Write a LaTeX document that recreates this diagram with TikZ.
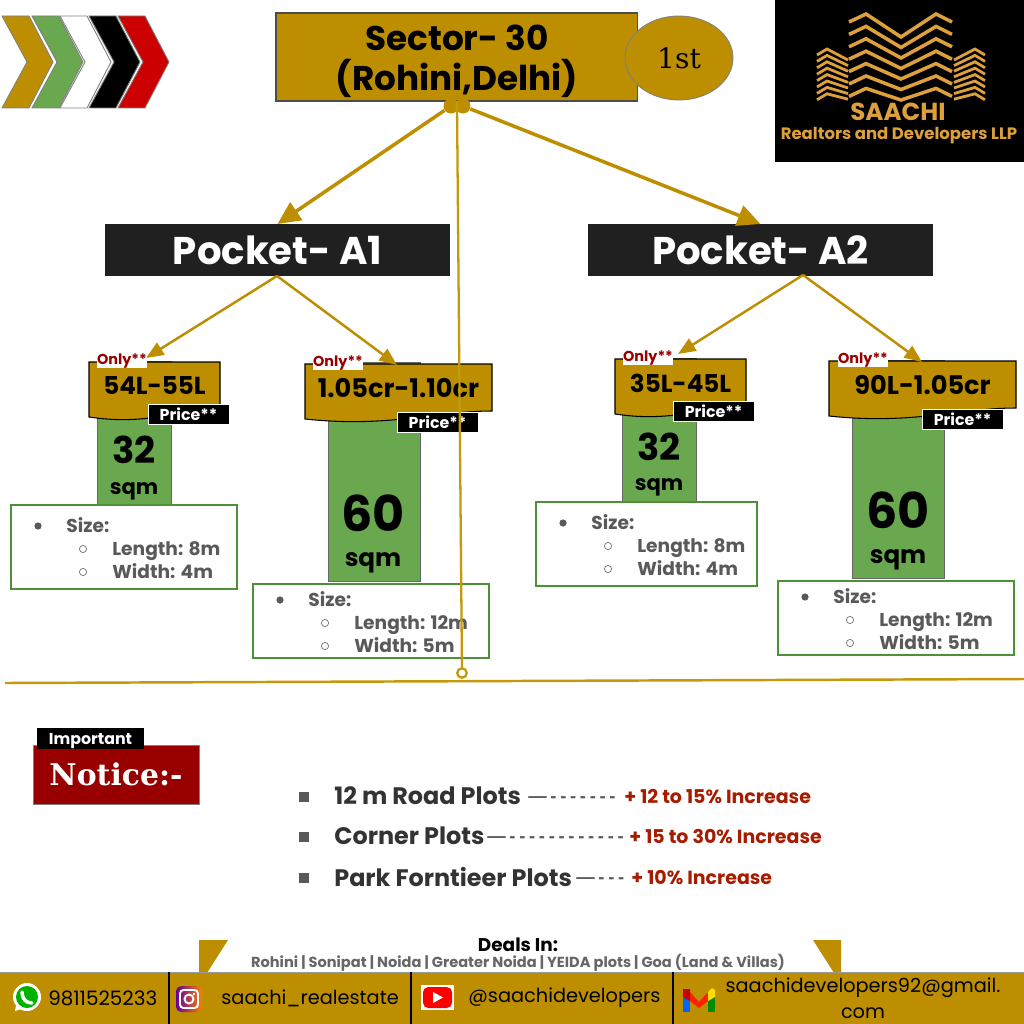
\documentclass[tikz,border=0pt]{standalone}
\usepackage{fontspec}
\setmainfont{Poppins}
\newfontfamily\slabfont{DejaVu Serif}
\newfontfamily\dashfont[LetterSpace=20]{Liberation Sans}
\usetikzlibrary{positioning, arrows.meta, shapes.geometric}
\usepackage{xcolor}
\definecolor{goldfill}{HTML}{BC8E00}
\definecolor{goldline}{HTML}{C49A0C}
\definecolor{leafgreen}{HTML}{6AA84F}
\definecolor{boxgreen}{HTML}{4E8F3A}
\definecolor{pocketblack}{HTML}{202020}
\definecolor{deepred}{HTML}{980000}
\definecolor{incred}{HTML}{A61C00}
\definecolor{logogold}{HTML}{DDA03A}
\newcommand{\fsz}[1]{\fontsize{#1}{1.2\dimexpr#1\relax}\selectfont}

\begin{document}
\begin{tikzpicture}[
                x=0.02cm, y=-0.02cm,
                tl/.style={anchor=north west, inner sep=0pt, outer sep=0pt},
                chevron/.style={draw=gray, line width=0.5pt},
                sectorbox/.style={tl, draw=black!70, fill=goldfill, line width=0.6pt, minimum width=7.24cm, minimum height=1.76cm},
                sectortext/.style={inner sep=0pt, align=center, font=\bfseries\fontsize{19.5pt}{22.8pt}\selectfont},
                pocket/.style={tl, fill=pocketblack, text=white, minimum width=6.9cm, minimum height=1.04cm, font=\bfseries\fsz{22pt}},
                bar/.style={tl, draw=gray!80!black, line width=0.3pt, fill=leafgreen},
                tagshape/.style={draw=black, line width=0.6pt, fill=goldfill},
                tagtext/.style={inner sep=0pt, font=\bfseries\fsz{14pt}},
                onlylabel/.style={tl, fill=white, text=deepred, minimum width=1cm, minimum height=0.32cm, text height=6.5pt, text depth=1.5pt, font=\bfseries\fsz{8.2pt}},
                pricelabel/.style={tl, fill=black, draw=white, line width=0.3pt, text=white, minimum width=1.62cm, minimum height=0.41cm, font=\bfseries\fsz{9pt}},
                sizebox/.style={tl, draw=boxgreen, line width=1pt, fill=white},
                sizetext/.style={anchor=west, inner sep=0pt, text height=11pt, text depth=2pt, text=black!65, font=\bfseries\fsz{10.6pt}},
                bigarrow/.style={-{Triangle[length=13pt,width=12pt]}, line width=2pt, goldfill},
                thinarrow/.style={-{Triangle[length=10pt,width=8pt]}, line width=1.4pt, goldfill},
                platetext/.style={anchor=west, inner sep=0pt, text=black!80, font=\bfseries\fsz{13.6pt}},
                dashtext/.style={anchor=base west, inner sep=0pt, text=black!65, font=\dashfont\bfseries\fsz{10.5pt}},
                incrtext/.style={anchor=west, inner sep=0pt, text=incred, font=\bfseries\fsz{10.8pt}},
                contact/.style={anchor=west, inner sep=0pt, font=\fsz{11pt}},
            ]
            \useasboundingbox (0,0) rectangle (1024,1024);
            \fill[white] (0,0) rectangle (1024,1024);

            % chevrons top left
            \foreach \cx/\cc in {2/goldfill, 32/leafgreen, 60/white, 89/black, 118/red!80!black}
                \draw[chevron, fill=\cc] (\cx,16) -- (\cx+27,16) -- (\cx+51,62) -- (\cx+27,108) -- (\cx,108) -- (\cx+25,62) -- cycle;

            % logo
            \fill[black] (775,0) rectangle (1024,162);
            \foreach \i in {0,...,6} {
                \draw[logogold, line width=2pt] (849,22+12.4*\i) -- (866,14+12.4*\i) -- (901,37+10.5*\i) -- (936,14+12.4*\i) -- (952,22+12.4*\i);
            }
            \foreach \i in {0,...,7} {
                \draw[logogold, line width=1.6pt] (817,55+6.4*\i) -- (827,49+6.4*\i) -- (848,60+5.6*\i);
                \draw[logogold, line width=1.6pt] (985,55+6.4*\i) -- (975,49+6.4*\i) -- (954,60+5.6*\i);
            }
            \node[inner sep=0pt, text=logogold, font=\bfseries\fsz{14pt}] (logoname) at (898,112) {SAACHI};
            \node[inner sep=0pt, text=logogold, font=\bfseries\fsz{9.4pt}] (logosub) at (899,136) {Realtors and Developers LLP};

            % title
            \node[sectorbox] (sector) at (276,13) {};
            \node[sectortext] (sectorname) at (457,61) {Sector- 30\\(Rohini,Delhi)};
            \node[ellipse, draw=gray, line width=0.5pt, fill=goldfill, minimum width=2.16cm, minimum height=1.68cm, inner sep=0pt, font=\slabfont\fsz{16pt}] (first) at (679,58) {1st};
            \node[circle, fill=goldfill, minimum size=0.3cm, inner sep=0pt] (dotl) at (451,106) {};
            \node[circle, fill=goldfill, minimum size=0.3cm, inner sep=0pt] (dotr) at (463,106) {};

            % pockets
            \node[pocket] (pocketa) at (105,224) {Pocket- A1};
            \node[pocket] (pocketb) at (588,224) {Pocket- A2};

            % green bars
            \foreach \nm/\bx/\by/\bw/\bh in {a/97/361/74/144, b/328/362/92/219, c/622/358/74/145, d/852/360/92/218}
                \node[bar, minimum width={\bw*0.02cm}, minimum height={\bh*0.02cm}] (bar\nm) at (\bx,\by) {};

            \foreach \nm/\nx/\ny in {a/134/450, c/659/447}
                \node[inner sep=0pt, font=\bfseries\fsz{21pt}] (num\nm) at (\nx,\ny) {32};
            \foreach \nm/\nx/\ny in {b/373/513, d/898/510}
                \node[inner sep=0pt, font=\bfseries\fsz{28pt}] (num\nm) at (\nx,\ny) {60};
            \foreach \nm/\nx/\ny/\sz in {a/134/491/12pt, c/659/487/12pt, b/373/563/14pt, d/898/560/14pt}
                \node[inner sep=0pt, font=\bfseries\fsz{\sz}] (unit\nm) at (\nx,\ny) {sqm};

            % price tags
            \foreach \nm/\tx/\ty/\tw/\val/\sz in {a/89/362/131/54L-55L/14pt, b/305/364/187/1.05cr-1.10cr/14.6pt, c/615/359/131/35L-45L/14pt, d/829/361/187/90L-1.05cr/14.6pt} {
                \draw[tagshape] (\tx,\ty) -- (\tx+\tw,\ty) -- (\tx+\tw,\ty+47) .. controls (\tx+0.7*\tw,\ty+47) and (\tx+0.45*\tw,\ty+64) .. (\tx,\ty+55) -- cycle;
                \node[tagtext, font=\bfseries\fsz{\sz}] (tag\nm) at (\tx+0.5*\tw,\ty+24) {\val};
            }
            \foreach \nm/\ox/\oy in {a/148/404, b/397/412, c/673/401, d/922/409}
                \node[pricelabel] (price\nm) at (\ox,\oy) {Price**};

            % size boxes
            \foreach \nm/\sx/\sy/\sw/\sh/\dy/\len/\wid in {a/11/505/226/84/20/8m/4m, b/253/584/236/74/15/12m/5m, c/536/502/221/84/20/8m/4m, d/778/581/236/74/15/12m/5m} {
                \node[sizebox, minimum width={\sw*0.02cm}, minimum height={\sh*0.02cm}] (size\nm) at (\sx,\sy) {};
                \fill[black!65] (\sx+27,\sy+\dy+1) circle (3.6);
                \draw[black!55, line width=0.4pt] (\sx+72,\sy+\dy+24) circle (3.6);
                \draw[black!55, line width=0.4pt] (\sx+72,\sy+\dy+47) circle (3.6);
                \node[sizetext] (sizeh\nm) at (\sx+55,\sy+\dy) {Size:};
                \node[sizetext] (sizel\nm) at (\sx+101,\sy+\dy+23) {Length: \len};
                \node[sizetext] (sizew\nm) at (\sx+101,\sy+\dy+46) {Width: \wid};
            }

            % connectors
            \coordinate (huba) at (277,276);
            \coordinate (hubb) at (803,275);
            \coordinate (tipa) at (146,358);
            \coordinate (tipb) at (397,365);
            \coordinate (tipc) at (678,354);
            \coordinate (tipd) at (922,362);
            \draw[bigarrow] (dotl) -- (pocketa.north);
            \draw[bigarrow] (dotr) -- (pocketb.north);
            \draw[thinarrow] (huba) -- (tipa);
            \draw[thinarrow] (huba) -- (tipb);
            \draw[thinarrow] (hubb) -- (tipc);
            \draw[thinarrow] (hubb) -- (tipd);
            \foreach \nm/\ox/\oy in {a/97/352, b/313/354, c/623/349, d/838/351}
                \node[onlylabel] (only\nm) at (\ox,\oy) {Only**};

            \coordinate (ruleleft) at (5,683);
            \coordinate (ruleright) at (1024,679);
            \draw[goldline, line width=1.4pt] (ruleleft) -- (ruleright);
            \node[circle, draw=goldline, line width=1.3pt, fill=white, minimum size=0.19cm, inner sep=0pt] (ring) at (462,673) {};
            \draw[goldline, line width=1.3pt] (sector.south) -- (ring);

            % notice
            \node[tl, fill=deepred, draw=gray, line width=0.4pt, text=white, minimum width=3.32cm, minimum height=1.18cm, font=\slabfont\bfseries\fsz{17pt}] (notice) at (33,745) {Notice:-};
            \node[tl, fill=black, text=white, minimum width=2.14cm, minimum height=0.42cm, text height=8pt, text depth=1pt, font=\bfseries\fsz{9pt}] (important) at (37,728) {Important};

            % plot rows
            \foreach \nm/\ry/\ptxt/\dx/\dtxt/\ix/\itxt in {
                    road/796/12 m Road Plots/528/—-------/624/+ 12 to 15\% Increase,
                    corner/836/Corner Plots/487/—------------/629/+ 15 to 30\% Increase,
                    park/877/Park Forntieer Plots/576/—---/631/+ 10\% Increase} {
                \fill[black!65] (299,\ry-4) rectangle (309,\ry+6);
                \node[platetext] (plot\nm) at (334,\ry) {\ptxt};
                \node[dashtext] (dash\nm) at (\dx,\ry+6) {\dtxt};
                \node[incrtext] (incr\nm) at (\ix,\ry+1) {\itxt};
            }

            % footer
            \node[inner sep=0pt, font=\bfseries\fsz{10.5pt}] (deals) at (518,945) {Deals In:};
            \node[inner sep=0pt, text=black!60, font=\bfseries\fsz{8.3pt}] (places) at (518,963) {Rohini | Sonipat | Noida | Greater Noida | YEIDA plots | Goa (Land \& Villas)};
            \fill[goldfill] (199,940) -- (228,940) -- (207,973) -- (199,973) -- cycle;
            \fill[goldfill] (813,940) -- (841,940) -- (841,973) -- (834,973) -- cycle;
            \fill[goldfill] (0,972) rectangle (1024,1024);
            \draw[black!40, line width=0.5pt] (0,972) -- (1024,972);
            \foreach \dx in {169,411,673}
                \draw[black, line width=0.9pt] (\dx,972) -- (\dx,1024);

            % icons
            \fill[white] (27,997) circle (14);
            \fill[white] (15,1011) -- (17,1000) -- (25,1008) -- cycle;
            \fill[green!70!black] (27,997) circle (11);
            \draw[white, line width=2pt, line cap=round] (22,992) .. controls (22,999) and (26,1003) .. (32,1003);

            \shade[left color=violet!80!blue, right color=orange, rounded corners=3pt] (176,986) rectangle (202,1012);
            \draw[white, line width=1.1pt, rounded corners=2pt] (180,990) rectangle (198,1008);
            \draw[white, line width=1.1pt] (189,999) circle (4.5);
            \fill[white] (194,994) circle (1.3);

            \fill[white] (421,985) rectangle (454,1010);
            \fill[red, rounded corners=3pt] (423,987) rectangle (452,1008);
            \fill[white] (433,992) -- (443,997.5) -- (433,1003) -- cycle;

            \fill[blue!60!cyan] (683,997) rectangle (690,1012);
            \fill[green!55!black] (708,997) rectangle (715,1012);
            \fill[red!75!orange] (690,992) -- (699,1002) -- (708,992) -- (708,1001) -- (699,1008) -- (690,1001) -- cycle;
            \fill[red!80!black] (683,989) -- (690,989) -- (690,1001) -- (683,997) -- cycle;
            \fill[yellow!80!orange] (708,992) -- (712,988) -- (715,990) -- (715,997) -- (708,1001) -- cycle;

            \node[contact, font=\fsz{11.3pt}] (phone) at (48,998) {9811525233};
            \node[contact] (insta) at (221,998) {saachi\_realestate};
            \node[contact] (tube) at (468,998) {@saachidevelopers};
            \node[inner sep=0pt, align=center, font=\fontsize{11pt}{14.6pt}\selectfont] (mail) at (863,998) {saachidevelopers92@gmail.\\com};
        \end{tikzpicture}
\end{document}
